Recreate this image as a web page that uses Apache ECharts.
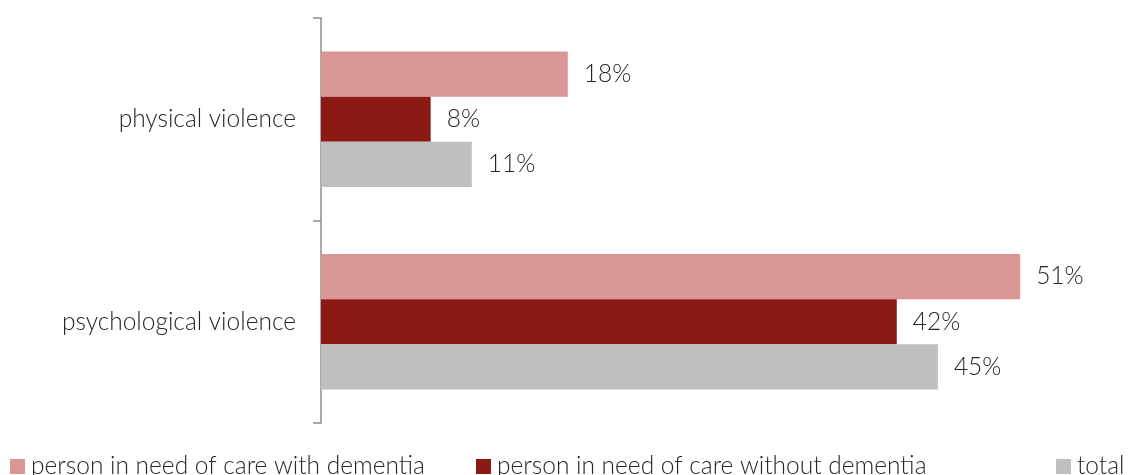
<!DOCTYPE html>
<html>
<head>
<meta charset="utf-8">
<script src="https://cdn.jsdelivr.net/npm/echarts@6/dist/echarts.min.js"></script>
<style>
  html, body { margin: 0; padding: 0; background: #fff; }
  #chart { width: 1129px; height: 475px; }
</style>
</head>
<body>
<div id="chart"></div>
<script>
// Share of cases (%) by type of violence and group
const categories = ['physical violence', 'psychological violence'];
const seriesNames = [
  'person in need of care with dementia',
  'person in need of care without dementia',
  'total'
];
const withDementia = [18, 51];
const withoutDementia = [8, 42];
const total = [11, 45];
const colors = ['#DA9694', '#8B1A15', '#BFBFBF'];

const FONT = 'Lato, "Open Sans", sans-serif';
const TEXT = '#262626';
const SIZE = 24.5;
const WEIGHT = 300;

const values = [withDementia, withoutDementia, total];

const chart = echarts.init(document.getElementById('chart'), null, { renderer: 'canvas' });

// one legend block per series, spread along the bottom edge
const legendLefts = [10, 476, 1056];

chart.setOption({
  animation: false,
  grid: { left: 321, right: 54, top: 18, bottom: 52, containLabel: false },
  xAxis: {
    type: 'value',
    min: 0,
    max: 55,
    show: false
  },
  yAxis: {
    type: 'category',
    data: categories,
    inverse: true,
    axisLine: { show: true, lineStyle: { color: '#8C8C8C', width: 1.5 } },
    axisTick: { show: true, length: 8, lineStyle: { color: '#8C8C8C', width: 1.5 } },
    axisLabel: {
      margin: 25,
      fontFamily: FONT,
      fontWeight: WEIGHT,
      fontSize: SIZE,
      color: TEXT
    },
    splitLine: { show: false }
  },
  legend: seriesNames.map((name, i) => ({
    data: [name],
    left: legendLefts[i],
    top: 454,
    itemWidth: 15,
    itemHeight: 15,
    itemGap: 0,
    padding: 0,
    icon: 'rect',
    selectedMode: false,
    textStyle: { fontFamily: FONT, fontWeight: WEIGHT, fontSize: SIZE, color: TEXT, padding: [0, 0, 0, 1] }
  })),
  series: seriesNames.map((name, i) => ({
    name: name,
    type: 'bar',
    data: values[i],
    barGap: '0%',
    barCategoryGap: '33%',
    itemStyle: { color: colors[i] },
    label: {
      show: true,
      position: 'right',
      distance: 16,
      formatter: p => p.value + '%',
      fontFamily: FONT,
      fontWeight: WEIGHT,
      fontSize: SIZE,
      color: TEXT
    }
  }))
});
</script>
</body>
</html>
